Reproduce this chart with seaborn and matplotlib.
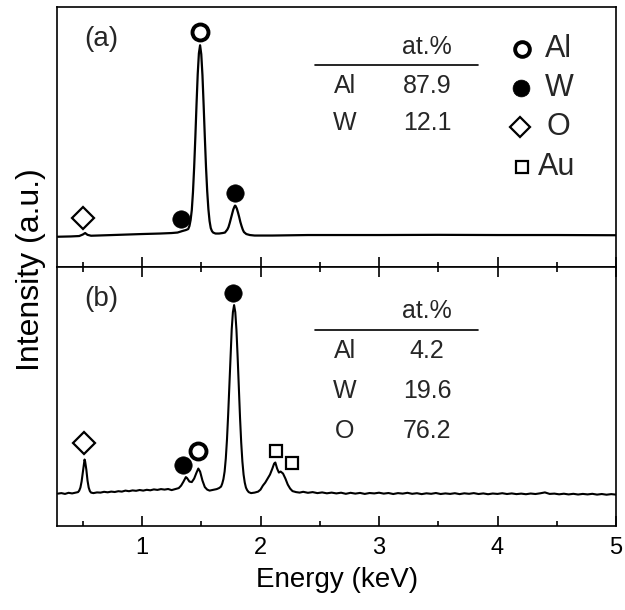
import numpy as np
import pandas as pd
import seaborn as sns
import matplotlib
matplotlib.use("Agg")
import matplotlib.pyplot as plt
from matplotlib.ticker import MultipleLocator

# ---------------- data ----------------
# Panel (a): energy (keV) and intensity (a.u.)
energy_a = [0.29, 0.40, 0.47, 0.50, 0.52, 0.54, 0.57, 0.70, 0.85, 1.00, 1.15, 1.25,
            1.30, 1.34, 1.37, 1.39, 1.40, 1.41, 1.42, 1.43, 1.44, 1.45, 1.46, 1.47,
            1.48, 1.49, 1.50, 1.51, 1.52, 1.53, 1.54, 1.55, 1.56, 1.57, 1.58, 1.59,
            1.60, 1.62, 1.65, 1.68, 1.70, 1.72, 1.73, 1.74, 1.75, 1.76, 1.77, 1.78,
            1.785, 1.79, 1.80, 1.81, 1.82, 1.83, 1.84, 1.85, 1.86, 1.88, 1.91, 1.95,
            2.10, 2.40, 3.00, 3.50, 4.00, 4.50, 5.00]
intensity_a = [0.3, 0.6, 1.0, 2.5, 4.0, 2.2, 1.3, 1.8, 2.4, 3.0, 3.5, 4.0,
               4.5, 6.0, 7.0, 8.0, 11, 17, 27, 45, 70, 100, 133, 163,
               184, 192, 183, 162, 132, 100, 70, 46, 28, 16, 9, 6,
               4.5, 3.5, 3.5, 4.0, 4.5, 7.5, 10, 14, 18.5, 23, 27.5, 30.5,
               31.5, 31, 28.5, 24.5, 20, 15, 11, 7.5, 5.0, 3.0, 2.0, 1.5,
               1.5, 2.0, 2.0, 2.2, 2.0, 2.0, 1.8]

# Panel (b)
energy_b = [0.29, 0.32, 0.35, 0.38, 0.41, 0.44, 0.46, 0.47, 0.48, 0.49, 0.50, 0.51,
            0.515, 0.52, 0.53, 0.54, 0.55, 0.56, 0.57, 0.59, 0.62, 0.65, 0.68, 0.71,
            0.74, 0.77, 0.80, 0.83, 0.86, 0.89, 0.92, 0.95, 0.98, 1.01, 1.04, 1.07,
            1.10, 1.13, 1.16, 1.19, 1.22, 1.25, 1.28, 1.31, 1.33, 1.35, 1.37, 1.38,
            1.40, 1.42, 1.44, 1.46, 1.475, 1.49, 1.51, 1.53, 1.55, 1.57, 1.59, 1.61,
            1.63, 1.65, 1.667, 1.677, 1.687, 1.697, 1.707, 1.717, 1.727, 1.737, 1.747,
            1.757, 1.767, 1.777, 1.787, 1.797, 1.807, 1.817, 1.827, 1.837, 1.847,
            1.857, 1.867, 1.877, 1.887, 1.90, 1.92, 1.95, 1.98, 2.00, 2.02, 2.04,
            2.06, 2.08, 2.10, 2.115, 2.125, 2.14, 2.155, 2.17, 2.19, 2.21, 2.23, 2.25,
            2.27, 2.30, 2.33, 2.36, 2.40, 2.44, 2.48, 2.52, 2.56, 2.60, 2.64, 2.68,
            2.72, 2.76, 2.80, 2.84, 2.88, 2.92, 2.96, 3.00, 3.04, 3.08, 3.12, 3.16,
            3.20, 3.24, 3.28, 3.32, 3.36, 3.40, 3.44, 3.48, 3.52, 3.56, 3.60, 3.64,
            3.68, 3.72, 3.76, 3.80, 3.84, 3.88, 3.92, 3.96, 4.00, 4.04, 4.08, 4.12,
            4.16, 4.20, 4.24, 4.28, 4.32, 4.36, 4.40, 4.44, 4.48, 4.52, 4.56, 4.60,
            4.64, 4.68, 4.72, 4.76, 4.80, 4.84, 4.88, 4.92, 4.96, 5.00]
intensity_b = [0.0, 0.5, -0.3, 0.8, 0.2, 1.0, 1.5, 3.0, 6.0, 12, 21, 30,
               34, 32, 24, 13, 6.0, 2.5, 1.0, 0.5, 1.2, 1.0, 1.8, 1.3,
               2.0, 1.6, 2.4, 2.0, 3.0, 2.4, 3.2, 2.8, 3.6, 3.0, 3.8, 3.3,
               4.2, 3.7, 4.5, 4.0, 4.6, 3.5, 4.5, 5.5, 8.0, 12, 16.5, 15.5,
               12, 11.5, 15, 21, 25, 22, 13, 6.5, 4.0, 3.0, 3.5, 4.0,
               4.5, 5.5, 7.0, 10, 14.5, 22, 35, 54, 79, 108, 138,
               164, 181, 188, 181, 163, 136, 105, 76, 51, 32,
               19, 11, 6.0, 3.5, 1.5, 0.5, 1.0, 2.0, 4.0, 8.0, 11,
               15, 19, 25, 30, 31, 25, 21, 22, 20, 15, 9.0, 5.0,
               2.5, 1.5, 1.0, 1.8, 0.8, 1.5, 0.5, 1.2, 0.3, 1.0, 0.2, 0.9,
               -0.2, 0.8, 0.0, 0.7, -0.3, 0.6, 0.2, 0.9, 0.0, 0.6, -0.4, 0.5,
               0.0, 0.8, -0.2, 0.4, -0.5, 0.3, -0.2, 0.6, -0.4, 0.2, -0.3, 0.4,
               -0.5, 0.3, -0.2, 0.5, -0.4, 0.2, -0.6, 0.1, -0.3, 0.4, -0.4, 0.2,
               -0.5, 0.0, -0.6, 0.1, -0.4, 0.3, 1.2, -0.3, 0.0, -0.7, -0.1, -0.8,
               -0.2, -0.9, -0.3, -0.8, -0.2, -1.0, -0.4, -1.1, -0.5, -1.0]

# Peak markers: (element, energy, height)
markers_a_elem = ["O", "W", "Al", "W"]
markers_a_x = [0.505, 1.33, 1.489, 1.785]
markers_a_y = [19, 18, 205, 44]
markers_b_elem = ["O", "W", "Al", "W", "Au", "Au"]
markers_b_x = [0.513, 1.343, 1.475, 1.771, 2.128, 2.263]
markers_b_y = [50, 29, 42, 200, 42, 31]

# Composition tables
table_a_elem = ["Al", "W"]
table_a_val = ["87.9", "12.1"]
table_b_elem = ["Al", "W", "O"]
table_b_val = ["4.2", "19.6", "76.2"]

legend_elems = ["Al", "W", "O", "Au"]
x_ticks = [1, 2, 3, 4, 5]

# ---------------- styling ----------------
sns.set_theme(style="white")
plt.rcParams["font.family"] = ["Liberation Sans", "DejaVu Sans"]
plt.rcParams["axes.linewidth"] = 1.2

marker_style = {
    "Al": dict(marker="o", markersize=11.5, markerfacecolor="white",
               markeredgecolor="black", markeredgewidth=2.8),
    "W": dict(marker="o", markersize=12.5, markerfacecolor="black",
              markeredgecolor="black", markeredgewidth=0.5),
    "O": dict(marker="D", markersize=11.0, markerfacecolor="white",
              markeredgecolor="black", markeredgewidth=1.6),
    "Au": dict(marker="s", markersize=9.0, markerfacecolor="white",
               markeredgecolor="black", markeredgewidth=1.6),
}
legend_scale = {"Al": 0.92, "W": 0.97, "O": 0.9, "Au": 1.0}

fig = plt.figure(figsize=(6.25, 6.1), dpi=100)
L, R = 57.3 / 625, 616 / 625
y_top, y_mid, y_bot = 1 - 7.3 / 610, 1 - 267 / 610, 1 - 525.7 / 610
ax_a = fig.add_axes([L, y_mid, R - L, y_top - y_mid])
ax_b = fig.add_axes([L, y_bot, R - L, y_mid - y_bot])

df_a = pd.DataFrame({"Energy": energy_a, "Intensity": intensity_a})
df_b = pd.DataFrame({"Energy": energy_b, "Intensity": intensity_b})
sns.lineplot(data=df_a, x="Energy", y="Intensity", ax=ax_a, color="black",
             linewidth=1.6, estimator=None, sort=True)
sns.lineplot(data=df_b, x="Energy", y="Intensity", ax=ax_b, color="black",
             linewidth=1.5, estimator=None, sort=True)

for ax, elems, xs, ys in [(ax_a, markers_a_elem, markers_a_x, markers_a_y),
                          (ax_b, markers_b_elem, markers_b_x, markers_b_y)]:
    for el, x, y in zip(elems, xs, ys):
        ax.plot([x], [y], linestyle="none", zorder=5, **marker_style[el])

for ax, ylim in [(ax_a, (-30, 230)), (ax_b, (-32, 226))]:
    ax.set_xlim(0.285, 5.0)
    ax.set_ylim(*ylim)
    ax.set_yticks([])
    ax.set_xlabel("")
    ax.set_ylabel("")
    ax.xaxis.set_major_locator(MultipleLocator(1))
    ax.xaxis.set_minor_locator(MultipleLocator(0.5))
    for s in ax.spines.values():
        s.set_color("black")
        s.set_linewidth(1.2)

ax_a.tick_params(axis="x", which="both", direction="in", bottom=True, top=False,
                 labelbottom=False, color="black", width=1.2)
ax_a.tick_params(axis="x", which="major", length=7.5)
ax_a.tick_params(axis="x", which="minor", length=3.8)
ax_b.tick_params(axis="x", which="both", direction="in", bottom=True, top=True,
                 labelbottom=True, color="black", width=1.2, labelsize=17,
                 pad=8, labelcolor="black")
ax_b.tick_params(axis="x", which="major", length=7.5)
ax_b.tick_params(axis="x", which="minor", length=3.8)
ax_b.set_xticks(x_ticks)
ax_b.set_xticklabels([str(t) for t in x_ticks])

ax_b.set_xlabel("Energy (keV)", fontsize=20, color="black", labelpad=6)
fig.text(31 / 625, 1 - 270 / 610, "Intensity (a.u.)", rotation=90, fontsize=23,
         ha="center", va="center", color="black")

# panel labels
ax_a.text((101.7 - 57.3) / 558.7, (267 - 39) / 259.7, "(a)", transform=ax_a.transAxes,
          fontsize=20, ha="center", va="center")
ax_b.text((101.7 - 57.3) / 558.7, (525.7 - 299) / 258.7, "(b)", transform=ax_b.transAxes,
          fontsize=20, ha="center", va="center")

# composition tables
def draw_table(ax, ax_top_px, ax_h, head_y, line_y, row_ys, elems, vals):
    fy = lambda py: (ax_top_px + ax_h - py) / ax_h
    fx = lambda px: (px - 57.3) / 558.7
    ax.text(fx(427), fy(head_y), "at.%", transform=ax.transAxes, fontsize=18,
            ha="center", va="center")
    ax.plot([fx(315), fx(478)], [fy(line_y), fy(line_y)], transform=ax.transAxes,
            color="black", linewidth=1.2)
    for el, v, ry in zip(elems, vals, row_ys):
        ax.text(fx(345), fy(ry), el, transform=ax.transAxes, fontsize=18,
                ha="center", va="center")
        ax.text(fx(427), fy(ry), v, transform=ax.transAxes, fontsize=18,
                ha="center", va="center")

draw_table(ax_a, 7.3, 259.7, 47, 65, [86, 123], table_a_elem, table_a_val)
draw_table(ax_b, 267, 258.7, 311, 330, [351, 391, 431], table_b_elem, table_b_val)

# legend of symbols (top panel)
leg_y_px = [49, 88, 127, 167]
leg_mx_px = [521.5, 521, 520, 521.5]
leg_tx_px = [545, 545, 546, 538]
for el, ypx, mx, tx in zip(legend_elems, leg_y_px, leg_mx_px, leg_tx_px):
    st = dict(marker_style[el])
    st["markersize"] = st["markersize"] * legend_scale[el]
    fy = (267 - ypx) / 259.7
    ax_a.plot([(mx - 57.3) / 558.7], [fy], transform=ax_a.transAxes,
              linestyle="none", zorder=5, **st)
    ax_a.text((tx - 57.3) / 558.7, fy, el, transform=ax_a.transAxes, fontsize=22,
              ha="left", va="center")

fig.savefig("out.png", dpi=100, facecolor="white")
